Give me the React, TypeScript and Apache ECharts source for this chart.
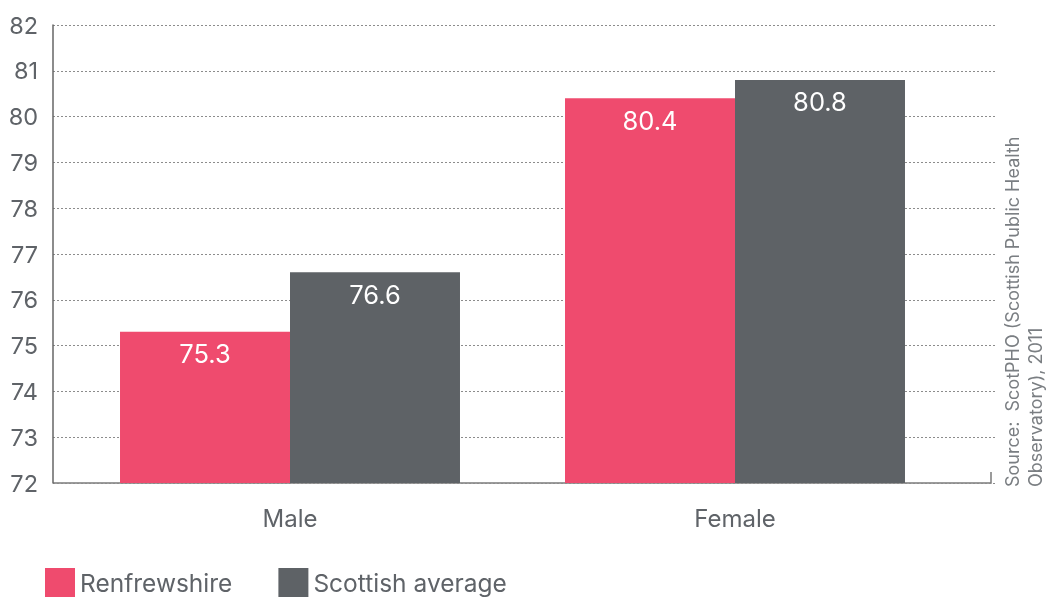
import React, { useEffect, useRef } from "react";
import * as echarts from "echarts";

const categories = ["Male", "Female"];
const renfrewshire = [75.3, 80.4];
const scottishAverage = [76.6, 80.8];
const yTicks = { min: 72, max: 82, interval: 1 };
const sourceLines = ["Source:  ScotPHO (Scottish Public Health", "Observatory), 2011"];

const FONT = "Inter, 'Noto Sans', sans-serif";
const TEXT = "#5f6368";

export default function App() {
  const ref = useRef<HTMLDivElement>(null);
  useEffect(() => {
    if (!ref.current) return;
    const chart = echarts.init(ref.current, undefined, { renderer: "svg" });
    const label = {
      show: true,
      position: "insideTop",
      distance: 9,
      color: "#ffffff",
      fontSize: 25.5,
      fontFamily: FONT,
    };
    chart.setOption({
      animation: false,
      textStyle: { fontFamily: FONT },
      grid: [
        { left: 53, right: 53, top: 25, bottom: 114 },
        { left: 67.5, right: 90.5, top: 25, bottom: 114 },
      ],
      xAxis: [
        {
          gridIndex: 0,
          type: "category",
          data: categories,
          axisLine: { show: false },
          axisTick: { show: false },
          axisLabel: { show: false },
        },
        {
          gridIndex: 1,
          type: "category",
          data: categories,
          axisLine: { show: false },
          axisTick: { show: false },
          axisLabel: { color: TEXT, fontSize: 24, margin: 23, fontFamily: FONT },
        },
      ],
      yAxis: [
        {
          gridIndex: 0,
          type: "value",
          min: yTicks.min,
          max: yTicks.max,
          interval: yTicks.interval,
          axisLine: { show: true, lineStyle: { color: "#666666", width: 1.5 } },
          axisTick: { show: false },
          axisLabel: { color: TEXT, fontSize: 23.5, margin: 15, fontFamily: FONT },
          splitLine: { show: true, lineStyle: { color: "#8c8c8c", type: [2, 2], width: 1 } },
        },
        {
          gridIndex: 1,
          type: "value",
          min: yTicks.min,
          max: yTicks.max,
          interval: yTicks.interval,
          show: false,
          splitLine: { show: false },
        },
      ],
      legend: {
        left: 40,
        top: 563,
        icon: "rect",
        itemWidth: 30,
        itemHeight: 29,
        itemGap: 46,
        textStyle: { color: TEXT, fontSize: 24.5, lineHeight: 28, fontFamily: FONT },
        data: ["Renfrewshire", "Scottish average"],
      },
      series: [
        {
          name: "Renfrewshire",
          type: "bar",
          xAxisIndex: 1,
          yAxisIndex: 1,
          data: renfrewshire,
          barGap: "0%",
          barCategoryGap: "23.6%",
          itemStyle: { color: "#ef4b6e" },
          label,
        },
        {
          name: "Scottish average",
          type: "bar",
          xAxisIndex: 1,
          yAxisIndex: 1,
          data: scottishAverage,
          barGap: "0%",
          barCategoryGap: "23.6%",
          itemStyle: { color: "#5e6266" },
          label,
        },
      ],
      graphic: [
        {
          type: "line",
          shape: { x1: 53, y1: 483, x2: 991, y2: 483 },
          style: { stroke: "#7a7a7a", lineWidth: 1.5 },
        },
        {
          type: "line",
          shape: { x1: 991, y1: 472, x2: 991, y2: 483.75 },
          style: { stroke: "#7a7a7a", lineWidth: 1.5 },
        },
        {
          type: "text",
          x: 1001,
          y: 487,
          rotation: Math.PI / 2,
          style: {
            text: sourceLines.join("\n"),
            fill: "#7a7e82",
            fontSize: 18,
            lineHeight: 23,
            fontFamily: FONT,
            align: "left",
            verticalAlign: "top",
          },
        },
      ],
    });
    return () => chart.dispose();
  }, []);
  return (
    <div
      ref={ref}
      style={{ position: "fixed", left: 0, top: 0, width: 1048, height: 597 }}
    />
  );
}
